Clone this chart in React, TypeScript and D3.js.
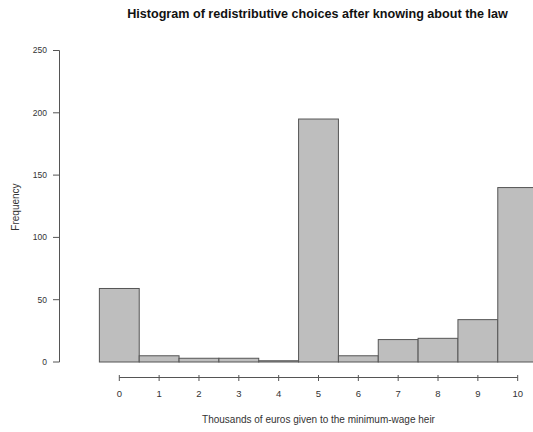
import React from "react";
import * as d3 from "d3";

const categories = [0, 1, 2, 3, 4, 5, 6, 7, 8, 9, 10];
const frequencies = [59, 5, 3, 3, 1, 195, 5, 18, 19, 34, 140];
const yTicks = [0, 50, 100, 150, 200, 250];
const xTicks = [0, 1, 2, 3, 4, 5, 6, 7, 8, 9, 10];
const title = "Histogram of redistributive choices after knowing about the law";
const xTitle = "Thousands of euros given to the minimum-wage heir";
const yTitle = "Frequency";

export default function App() {
  const W = 533, H = 432;
  const x = d3.scaleLinear().domain([0, 10]).range([119.3, 517.7]);
  const y = d3.scaleLinear().domain([0, 250]).range([362, 50.5]);
  const font = "'Liberation Sans', Arial, Helvetica, sans-serif";
  const axisColor = "#555";
  const textColor = "#333";
  return (
    <svg width={W} height={H} style={{ position: "absolute", left: 0, top: 0, background: "#fff" }} fontFamily={font}>
      <text x={317.5} y={18} textAnchor="middle" fontWeight="bold" fontSize={12.6} fill="#111">{title}</text>
      {categories.map((c, i) => (
        <rect key={c} x={x(c - 0.5)} y={y(frequencies[i])} width={x(c + 0.5) - x(c - 0.5)}
          height={y(0) - y(frequencies[i])} fill="#bebebe" stroke="#555" strokeWidth={1} />
      ))}
      {/* y axis */}
      <line x1={59.5} x2={59.5} y1={y(250)} y2={y(0)} stroke={axisColor} strokeWidth={1} />
      {yTicks.map(t => (
        <g key={t}>
          <line x1={53} x2={59.5} y1={y(t)} y2={y(t)} stroke={axisColor} strokeWidth={1} />
          <text x={47} y={y(t)} dy="0.35em" textAnchor="end" fontSize={8.5} fill={textColor}>{t}</text>
        </g>
      ))}
      <text transform={`translate(19,${207}) rotate(-90)`} textAnchor="middle" fontSize={10} fill={textColor}>{yTitle}</text>
      {/* x axis */}
      <line x1={x(0)} x2={x(10)} y1={377.5} y2={377.5} stroke={axisColor} strokeWidth={1} />
      {xTicks.map(t => (
        <g key={t}>
          <line x1={x(t)} x2={x(t)} y1={375} y2={381} stroke={axisColor} strokeWidth={1} />
          <text x={x(t)} y={396.5} textAnchor="middle" fontSize={9.5} fill={textColor}>{t}</text>
        </g>
      ))}
      <text x={318.5} y={423} textAnchor="middle" fontSize={10} fill={textColor}>{xTitle}</text>
    </svg>
  );
}
